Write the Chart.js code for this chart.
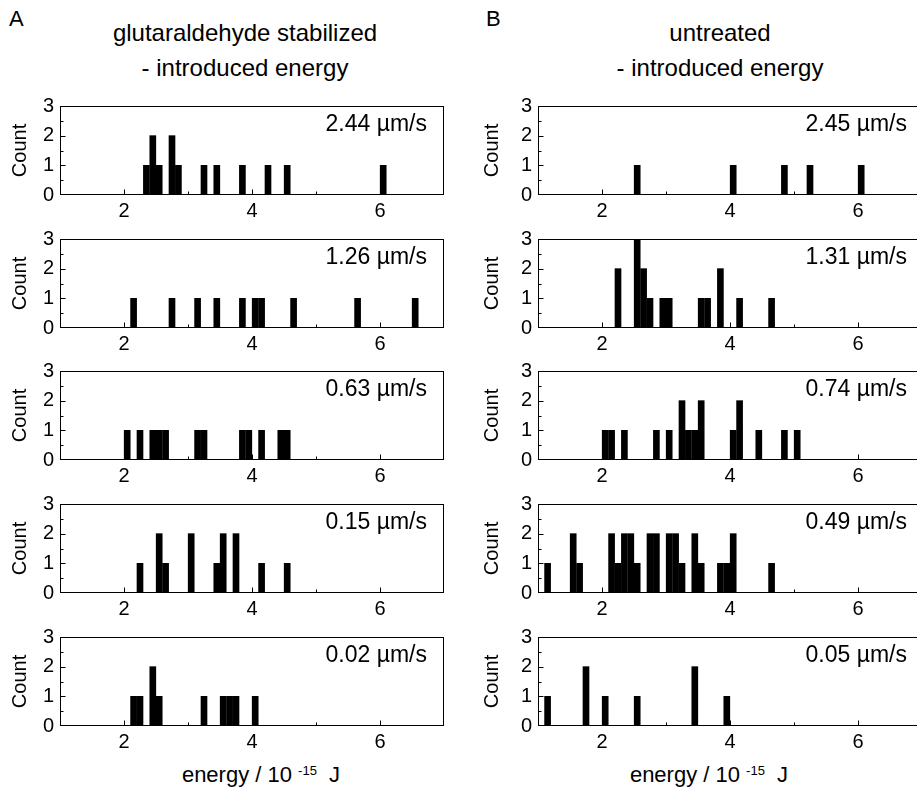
<!DOCTYPE html>
<html><head><meta charset="utf-8">
<script src="https://cdn.jsdelivr.net/npm/chart.js@4.4.1/dist/chart.umd.min.js"></script>
<style>
html,body{margin:0;padding:0;background:#fff;overflow:hidden;}
#wrap{position:relative;width:917px;height:792px;overflow:hidden;font-family:"Liberation Sans",Arial,sans-serif;color:#000;}
#wrap canvas{position:absolute;}
.t{position:absolute;white-space:nowrap;}
.ttl{position:absolute;text-align:center;font-size:24px;line-height:35px;}
.xt{position:absolute;text-align:center;font-size:22px;}
.xt sup{font-size:13px;vertical-align:7px;line-height:0;}
</style></head><body><div id="wrap">
<div class="t" style="left:9px;top:6px;font-size:22px;">A</div>
<div class="t" style="left:486px;top:6px;font-size:22px;">B</div>
<div class="ttl" style="left:45px;top:15px;width:400px;">glutaraldehyde stabilized<br>- introduced energy</div>
<div class="ttl" style="left:520px;top:15px;width:400px;">untreated<br>- introduced energy</div>
<div class="xt" style="left:111px;top:762px;width:300px;">energy / 10 <sup>-15</sup>&nbsp; J</div>
<div class="xt" style="left:559px;top:762px;width:300px;">energy / 10 <sup>-15</sup>&nbsp; J</div>
<canvas id="a1" width="450" height="133" style="left:0;top:88px"></canvas>
<canvas id="a2" width="450" height="133" style="left:0;top:221px"></canvas>
<canvas id="a3" width="450" height="133" style="left:0;top:353px"></canvas>
<canvas id="a4" width="450" height="133" style="left:0;top:486px"></canvas>
<canvas id="a5" width="450" height="133" style="left:0;top:619px"></canvas>
<canvas id="b1" width="450" height="133" style="left:478px;top:88px"></canvas>
<canvas id="b2" width="450" height="133" style="left:478px;top:221px"></canvas>
<canvas id="b3" width="450" height="133" style="left:478px;top:353px"></canvas>
<canvas id="b4" width="450" height="133" style="left:478px;top:486px"></canvas>
<canvas id="b5" width="450" height="133" style="left:478px;top:619px"></canvas>
</div>
<script>
// ---- data (energy bin centres in 10^-15 J, counts) ----
const xTickLabels = [2, 4, 6];
const yTickLabels = [0, 1, 2, 3];
const speedsA = ['2.44 µm/s', '1.26 µm/s', '0.63 µm/s', '0.15 µm/s', '0.02 µm/s'];
const speedsB = ['2.45 µm/s', '1.31 µm/s', '0.74 µm/s', '0.49 µm/s', '0.05 µm/s'];

const a1Energy = [2.35, 2.45, 2.55, 2.75, 2.85, 3.25, 3.45, 3.85, 4.25, 4.55, 6.05];
const a1Count  = [1, 2, 1, 2, 1, 1, 1, 1, 1, 1, 1];
const a2Energy = [2.15, 2.75, 3.15, 3.45, 3.85, 4.05, 4.15, 4.65, 5.65, 6.55];
const a2Count  = [1, 1, 1, 1, 1, 1, 1, 1, 1, 1];
const a3Energy = [2.05, 2.25, 2.45, 2.55, 2.65, 3.15, 3.25, 3.85, 3.95, 4.15, 4.45, 4.55];
const a3Count  = [1, 1, 1, 1, 1, 1, 1, 1, 1, 1, 1, 1];
const a4Energy = [2.25, 2.55, 2.65, 3.05, 3.45, 3.55, 3.75, 4.15, 4.55];
const a4Count  = [1, 2, 1, 2, 1, 2, 2, 1, 1];
const a5Energy = [2.15, 2.25, 2.45, 2.55, 3.25, 3.55, 3.65, 3.75, 4.05];
const a5Count  = [1, 1, 2, 1, 1, 1, 1, 1, 1];

const b1Energy = [2.55, 4.05, 4.85, 5.25, 6.05];
const b1Count  = [1, 1, 1, 1, 1];
const b2Energy = [2.25, 2.55, 2.65, 2.75, 2.95, 3.05, 3.55, 3.65, 3.85, 4.15, 4.65];
const b2Count  = [2, 3, 2, 1, 1, 1, 1, 1, 2, 1, 1];
const b3Energy = [2.05, 2.15, 2.35, 2.85, 3.05, 3.25, 3.35, 3.45, 3.55, 4.05, 4.15, 4.45, 4.85, 5.05];
const b3Count  = [1, 1, 1, 1, 1, 2, 1, 1, 2, 1, 2, 1, 1, 1];
const b4Energy = [1.15, 1.55, 1.65, 2.15, 2.25, 2.35, 2.45, 2.55, 2.75, 2.85, 3.05, 3.15, 3.25, 3.45, 3.55, 3.85, 3.95, 4.05, 4.65];
const b4Count  = [1, 2, 1, 2, 1, 2, 2, 1, 2, 2, 2, 2, 1, 2, 1, 1, 1, 2, 1];
const b5Energy = [1.15, 1.75, 2.05, 2.55, 3.45, 3.95];
const b5Count  = [1, 2, 1, 1, 2, 1];

const panels = [
  ['a1', a1Energy, a1Count, speedsA[0], 0], ['a2', a2Energy, a2Count, speedsA[1], 0],
  ['a3', a3Energy, a3Count, speedsA[2], 0], ['a4', a4Energy, a4Count, speedsA[3], 0],
  ['a5', a5Energy, a5Count, speedsA[4], 0],
  ['b1', b1Energy, b1Count, speedsB[0], 1], ['b2', b2Energy, b2Count, speedsB[1], 1],
  ['b3', b3Energy, b3Count, speedsB[2], 1], ['b4', b4Energy, b4Count, speedsB[3], 1],
  ['b5', b5Energy, b5Count, speedsB[4], 1]
];

const FONT = '"Liberation Sans", Arial, sans-serif';

const framePlugin = {
  id: 'frame',
  afterDatasetsDraw(chart, args, opts) {
    const {ctx, chartArea: a, scales: {x, y}} = chart;
    ctx.save();
    ctx.strokeStyle = '#000';
    ctx.lineWidth = 1;
    const L = Math.round(a.left) + 0.5, R = Math.round(a.right) - 0.5;
    const T = Math.round(a.top) + 0.5, B = Math.round(a.bottom) - 0.5;
    ctx.strokeRect(L, T, R - L, B - T);
    ctx.beginPath();
    x.ticks.forEach(t => {
      if (t.value <= x.min || t.value >= x.max) return;
      const px = Math.round(x.getPixelForValue(t.value)) + 0.5;
      const len = xTickLabels.includes(t.value) ? 5 : 3;
      ctx.moveTo(px, B); ctx.lineTo(px, B - len);
    });
    y.ticks.forEach(t => {
      if (t.value <= y.min || t.value >= y.max) return;
      const py = Math.round(y.getPixelForValue(t.value)) + 0.5;
      const len = yTickLabels.includes(t.value) ? 5 : 3;
      ctx.moveTo(L, py); ctx.lineTo(L + len, py);
    });
    ctx.stroke();
    ctx.font = '23px ' + FONT;
    ctx.fillStyle = '#000';
    ctx.textAlign = 'right';
    ctx.textBaseline = 'alphabetic';
    ctx.fillText(opts.label, a.right - opts.inset, a.top + 25);
    ctx.restore();
  }
};

panels.forEach(([id, energy, count, speed, col]) => {
  new Chart(document.getElementById(id), {
    type: 'bar',
    data: {
      datasets: [{
        data: energy.map((e, i) => ({x: e, y: count[i]})),
        backgroundColor: '#000',
        borderWidth: 0,
        barThickness: 6,
        grouped: false
      }]
    },
    plugins: [framePlugin],
    options: {
      responsive: false,
      animation: false,
      events: [],
      layout: {padding: {top: 14, right: 6, left: 0, bottom: 0}},
      plugins: {
        legend: {display: false},
        tooltip: {enabled: false},
        frame: {label: speed, inset: col === 0 ? 17 : 15}
      },
      scales: {
        x: {
          type: 'linear', min: 1, max: 7, offset: false,
          grid: {display: false, drawTicks: false, offset: false},
          border: {display: false},
          afterFit: s => { s.height = 26; },
          ticks: {
            stepSize: 1, autoSkip: false, maxRotation: 0, padding: 4,
            color: '#000', font: {family: FONT, size: 20},
            callback: v => xTickLabels.includes(v) ? String(v) : ''
          }
        },
        y: {
          type: 'linear', min: 0, max: 3,
          grid: {display: false, drawTicks: false},
          border: {display: false},
          afterFit: s => { s.width = 60; },
          title: {
            display: true, text: 'Count', color: '#000',
            font: {family: FONT, size: 20},
            padding: {top: col === 0 ? 8 : 2, bottom: 0}
          },
          ticks: {
            stepSize: 0.5, autoSkip: false, padding: 6,
            color: '#000', font: {family: FONT, size: 20},
            callback: v => yTickLabels.includes(v) ? String(v) : ''
          }
        }
      }
    }
  });
});
</script>
</body></html>
